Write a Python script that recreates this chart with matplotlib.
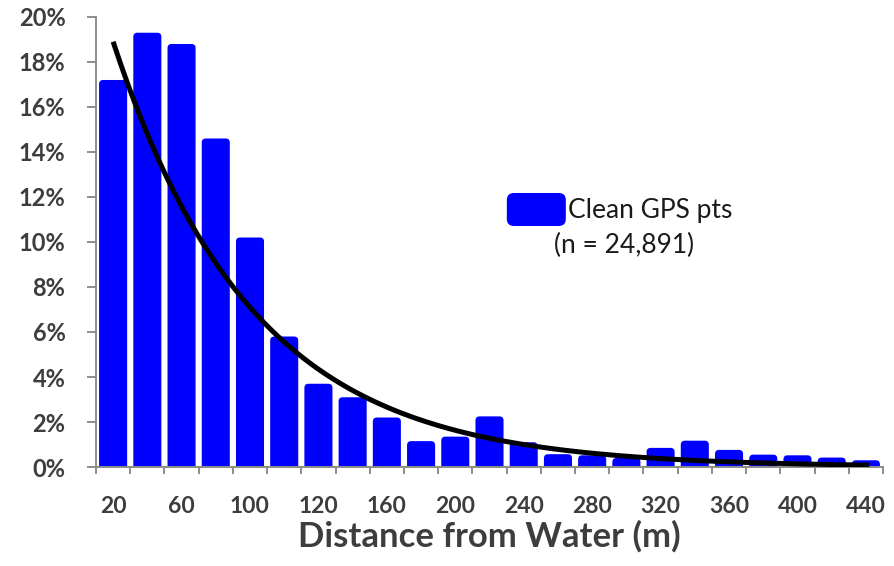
import numpy as np
import matplotlib
matplotlib.use('Agg')
import matplotlib.pyplot as plt
from matplotlib.patches import FancyBboxPatch

plt.rcParams['font.family'] = ['Lato', 'DejaVu Sans']

# share of GPS points per 20 m distance class (%)
pct = [17.2, 19.3, 18.8, 14.6, 10.2, 5.8, 3.7, 3.1, 2.2, 1.15, 1.35, 2.25,
       1.1, 0.57, 0.52, 0.4, 0.85, 1.17, 0.76, 0.55, 0.52, 0.42, 0.3]
tick_labels = ['20', '60', '100', '120', '160', '200', '240', '280',
               '320', '360', '400', '440']
# exponential trendline y = a*exp(-k*i), i = class index from first bar
trend_a = 18.9
trend_k = 0.245
trend_end = 22.1

legend_label = 'Clean GPS pts'
legend_n = '(n = 24,891)'

bar_color = '#0000ff'
grey = '#8c8c8c'
txt = '#3d3d3d'

fig = plt.figure(figsize=(8.94, 5.66), dpi=100)
ax = fig.add_axes([0.1074, 0.1749, 0.8803, 0.7951])

x = np.arange(len(pct))
bars = ax.bar(x, pct, width=0.82, color=bar_color)
# swap plain rectangles for ones with rounded tops
for b in bars:
    bx, bw, bh = b.get_x(), b.get_width(), b.get_height()
    b.remove()
    p = FancyBboxPatch((bx, -0.5), bw, bh + 0.5,
                       boxstyle='round,pad=0,rounding_size=0.12',
                       mutation_aspect=1.5, facecolor=bar_color,
                       edgecolor='none', zorder=2)
    ax.add_patch(p)

xs = np.linspace(0, trend_end, 200)
ax.plot(xs, trend_a * np.exp(-trend_k * xs), color='black', lw=3.6,
        zorder=3, solid_capstyle='butt')

ax.set_xlim(-0.5, len(pct) - 0.5)
ax.set_ylim(0, 20)

ax.set_yticks(np.arange(0, 21, 2))
ax.set_yticklabels([f'{v}%' for v in range(0, 21, 2)])
# labels on every other class centre, tick marks on class boundaries
ax.set_xticks(np.arange(0, len(pct), 2))
ax.set_xticklabels(tick_labels)
ax.set_xticks(np.arange(-0.5, len(pct), 1.0), minor=True)

ax.tick_params(axis='y', length=6.5, width=1.4, color=grey, pad=15.5,
               labelsize=17, labelcolor=txt)
ax.tick_params(axis='x', which='major', length=0, pad=21, labelsize=16.5,
               labelcolor=txt)
ax.tick_params(axis='x', which='minor', length=5, width=1.4, color=grey,
               direction='out')
for lab in ax.get_yticklabels() + ax.get_xticklabels():
    lab.set_fontweight('bold')

for s in ['top', 'right']:
    ax.spines[s].set_visible(False)
for s in ['left', 'bottom']:
    ax.spines[s].set_color(grey)
    ax.spines[s].set_linewidth(1.4)

ax.set_xlabel('Distance from Water (m)', fontsize=25, fontweight='bold',
              color=txt, labelpad=2)

# legend drawn by hand: rounded swatch plus two text lines
sw = FancyBboxPatch((0.522, 0.5356), 0.075, 0.0733,
                    boxstyle='round,pad=0,rounding_size=0.009',
                    mutation_aspect=1.75,
                    transform=ax.transAxes, facecolor=bar_color,
                    edgecolor='none', zorder=4)
ax.add_patch(sw)
ax.text(0.600, 0.571, legend_label, transform=ax.transAxes, fontsize=19,
        color='#1a1a1a', va='center', ha='left')
ax.text(0.582, 0.493, legend_n, transform=ax.transAxes, fontsize=19,
        color='#1a1a1a', va='center', ha='left')

fig.savefig('out.png', dpi=100)
